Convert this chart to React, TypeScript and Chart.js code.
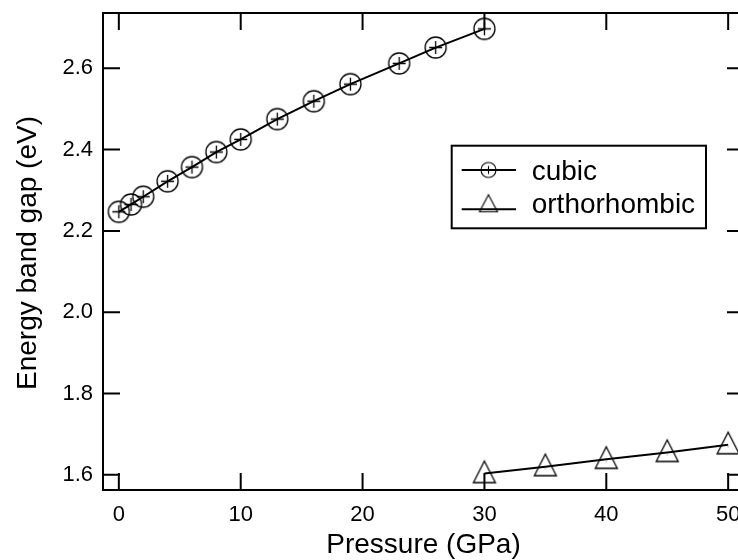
import React, { useEffect, useRef } from "react";
import { Chart, registerables } from "chart.js";

Chart.register(...registerables);

// ---- data ----
const cubicPressure = [0, 1, 2, 4, 6, 8, 10, 13, 16, 19, 23, 26, 30];
const cubicGap = [2.247, 2.265, 2.284, 2.322, 2.357, 2.394, 2.425, 2.475, 2.519, 2.561, 2.612, 2.651, 2.697];
const orthoPressure = [30, 35, 40, 45, 50];
const orthoGap = [1.603, 1.62, 1.638, 1.655, 1.674];
const xTickValues = [0, 10, 20, 30, 40, 50];
const yTickValues = [1.6, 1.8, 2.0, 2.2, 2.4, 2.6];
const seriesLabels = ["cubic", "orthorhombic"];
const xTitle = "Pressure (GPa)";
const yTitle = "Energy band gap (eV)";
const xRange = [-1.3, 51.3];
const yRange = [1.5626, 2.736];

const FONT = "'Liberation Sans', Arial, Helvetica, sans-serif";

function makeCircleMarker(diam: number, cross: number, lw: number) {
  const size = Math.ceil(diam + 4);
  const c = document.createElement("canvas");
  c.width = size;
  c.height = size;
  const g = c.getContext("2d")!;
  const m = size / 2;
  g.strokeStyle = "#000";
  g.lineWidth = lw;
  g.beginPath();
  g.arc(m, m, diam / 2, 0, Math.PI * 2);
  g.stroke();
  g.beginPath();
  g.moveTo(m, m - cross);
  g.lineTo(m, m + cross);
  g.moveTo(m - cross, m);
  g.lineTo(m + cross, m);
  g.stroke();
  return c;
}

function makeTriangleMarker(w: number, h: number, above: number, lw: number) {
  const size = Math.ceil(Math.max(w, h) * 2 + 4);
  const c = document.createElement("canvas");
  c.width = size;
  c.height = size;
  const g = c.getContext("2d")!;
  const m = size / 2;
  g.strokeStyle = "#000";
  g.lineWidth = lw;
  g.lineJoin = "miter";
  g.beginPath();
  g.moveTo(m, m - above);
  g.lineTo(m + w / 2, m - above + h);
  g.lineTo(m - w / 2, m - above + h);
  g.closePath();
  g.stroke();
  g.fillStyle = "#666";
  g.fillRect(m - 0.5, m + 1.5, 1, 1);
  return c;
}

export default function App() {
  const ref = useRef<HTMLCanvasElement>(null);

  useEffect(() => {
    document.body.style.margin = "0";
    const canvas = ref.current!;
    const circ = makeCircleMarker(21, 6.5, 1.3);
    const tri = makeTriangleMarker(22, 21.5, 12.5, 1.3);
    const circSmall = makeCircleMarker(15, 4, 1.1);
    const triSmall = makeTriangleMarker(18, 17, 14.5, 1.1);

    const framePlugin = {
      id: "frame",
      afterDraw(chart: any) {
        const ctx = chart.ctx as CanvasRenderingContext2D;
        const { left, right, top, bottom } = chart.chartArea;
        const xs = chart.scales.x;
        const ys = chart.scales.y;
        ctx.save();
        ctx.strokeStyle = "#000";
        ctx.lineWidth = 2;
        ctx.strokeRect(left, top, right - left, bottom - top);
        const tl = 17;
        ctx.beginPath();
        xTickValues.forEach((v) => {
          const px = xs.getPixelForValue(v);
          ctx.moveTo(px, bottom);
          ctx.lineTo(px, bottom - tl);
          ctx.moveTo(px, top);
          ctx.lineTo(px, top + tl);
        });
        yTickValues.forEach((v) => {
          const py = ys.getPixelForValue(v);
          ctx.moveTo(left, py);
          ctx.lineTo(left + tl, py);
          ctx.moveTo(right, py);
          ctx.lineTo(right - tl, py);
        });
        ctx.stroke();

        // axis titles
        ctx.fillStyle = "#000";
        ctx.font = `28px ${FONT}`;
        ctx.textAlign = "center";
        ctx.textBaseline = "alphabetic";
        ctx.fillText(xTitle, (left + right) / 2, 553);
        ctx.save();
        ctx.translate(36, 253);
        ctx.rotate(-Math.PI / 2);
        ctx.fillText(yTitle, 0, 0);
        ctx.restore();

        // legend
        const bx = 451.7, by = 145.7, bw = 706 - 451.7, bh = 228.3 - 145.7;
        ctx.fillStyle = "#fff";
        ctx.fillRect(bx, by, bw, bh);
        ctx.lineWidth = 2;
        ctx.strokeRect(bx, by, bw, bh);
        const rows = [
          { y: 170, base: 179.5, img: circSmall, label: seriesLabels[0] },
          { y: 209.3, base: 212.7, img: triSmall, label: seriesLabels[1] },
        ];
        rows.forEach((r) => {
          ctx.beginPath();
          ctx.lineWidth = 2;
          ctx.moveTo(461.7, r.y);
          ctx.lineTo(516, r.y);
          ctx.stroke();
          ctx.drawImage(r.img, 488.5 - r.img.width / 2, r.y - r.img.height / 2);
          ctx.fillStyle = "#000";
          ctx.font = `28px ${FONT}`;
          ctx.textAlign = "left";
          ctx.fillText(r.label, 531.7, r.base);
        });
        ctx.restore();
      },
    };

    const chart = new Chart(canvas, {
      type: "scatter",
      data: {
        datasets: [
          {
            label: seriesLabels[0],
            data: cubicPressure.map((x, i) => ({ x, y: cubicGap[i] })),
            showLine: true,
            borderColor: "#000",
            borderWidth: 2,
            pointStyle: circ as any,
            pointRadius: 11,
            backgroundColor: "transparent",
          },
          {
            label: seriesLabels[1],
            data: orthoPressure.map((x, i) => ({ x, y: orthoGap[i] })),
            showLine: true,
            borderColor: "#000",
            borderWidth: 2,
            pointStyle: tri as any,
            pointRadius: 11,
            backgroundColor: "transparent",
          },
        ],
      },
      options: {
        responsive: false,
        animation: false,
        devicePixelRatio: 1,
        layout: { padding: { top: 10, right: 16, left: 0, bottom: 0 } },
        plugins: { legend: { display: false }, tooltip: { enabled: false } },
        scales: {
          x: {
            type: "linear",
            min: xRange[0],
            max: xRange[1],
            grid: { display: false, drawTicks: false },
            border: { display: false },
            ticks: {
              color: "#000",
              font: { family: FONT, size: 22 },
              padding: 12,
              includeBounds: false,
              autoSkip: false,
              maxRotation: 0,
              callback: (v: any) => String(v),
            },
            afterBuildTicks: (s: any) => {
              s.ticks = xTickValues.map((v) => ({ value: v }));
            },
            afterFit: (s: any) => {
              s.height = 70;
              s.paddingLeft = 0;
              s.paddingRight = 0;
              s.paddingTop = 0;
              s.paddingBottom = 0;
            },
          },
          y: {
            type: "linear",
            min: yRange[0],
            max: yRange[1],
            grid: { display: false, drawTicks: false },
            border: { display: false },
            ticks: {
              color: "#000",
              font: { family: FONT, size: 22 },
              padding: 10,
              includeBounds: false,
              autoSkip: false,
              callback: (v: any) => Number(v).toFixed(1),
            },
            afterBuildTicks: (s: any) => {
              s.ticks = yTickValues.map((v) => ({ value: v }));
            },
            afterFit: (s: any) => {
              s.width = 103;
              s.paddingLeft = 0;
              s.paddingRight = 0;
              s.paddingTop = 0;
              s.paddingBottom = 0;
            },
          },
        },
      },
      plugins: [framePlugin],
    });
    return () => chart.destroy();
  }, []);

  return (
    <div
      style={{
        position: "absolute",
        left: 0,
        top: 0,
        width: 738,
        height: 560,
        overflow: "hidden",
        background: "#fff",
      }}
    >
      <canvas ref={ref} width={760} height={560} style={{ display: "block", width: 760, height: 560 }} />
    </div>
  );
}
